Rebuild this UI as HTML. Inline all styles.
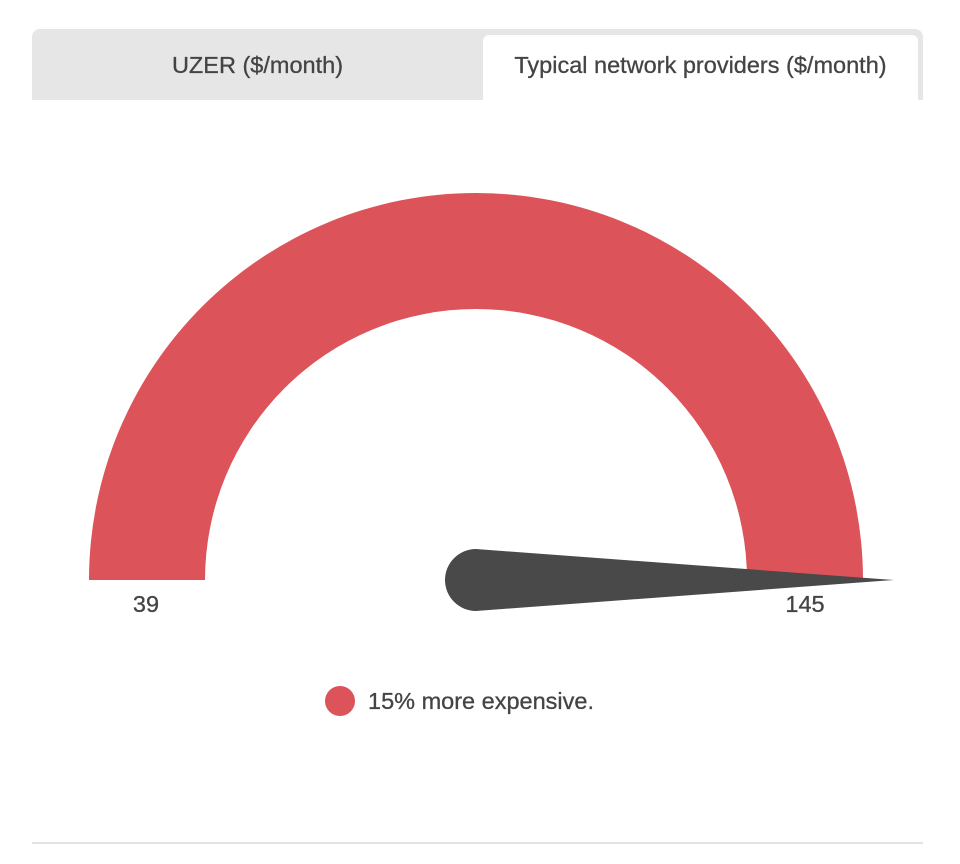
<!DOCTYPE html>
<html><head><meta charset="utf-8"><style>
body{margin:0;width:960px;height:864px;background:#fff;font-family:"Liberation Sans",sans-serif;position:relative;overflow:hidden}
.tabs{position:absolute;left:32px;top:29px;width:891px;height:71px;background:#e6e6e6;border-radius:8px 8px 0 0}
.tab{position:absolute;top:6px;height:65px;line-height:60px;text-align:center;font-size:23.5px;color:#444;-webkit-text-stroke:0.3px #444}
#t1{left:0;width:451px}
#t2{left:451px;width:435px;background:#fff;border-radius:6px 6px 0 0}
.line{position:absolute;left:32px;top:842px;width:891px;height:2px;background:#e3e3e3}
</style></head><body>
<div class="tabs">
<div class="tab" id="t1">UZER ($/month)</div>
<div class="tab" id="t2">Typical network providers ($/month)</div>
</div>
<svg id="g" width="960" height="864" style="position:absolute;left:0;top:0"></svg>
<div class="line"></div>
<script>
const minVal=[39];
const maxVal=[145];
const value=[145];
const legendText=["15% more expensive."];
const svg=document.getElementById('g');
const NS='http://www.w3.org/2000/svg';
const cx=476,cy=580,R=387,r=271;
function ang(v){return Math.PI*(1-(v-minVal[0])/(maxVal[0]-minVal[0]));}
function pt(a,rad){return [cx+rad*Math.cos(a),cy-rad*Math.sin(a)];}
const a0=ang(minVal[0]),a1=ang(value[0]);
const p1=pt(a0,R),p2=pt(a1,R),p3=pt(a1,r),p4=pt(a0,r);
const arc=document.createElementNS(NS,'path');
arc.setAttribute('d',`M${p1} A${R},${R} 0 0 1 ${p2} L${p3} A${r},${r} 0 0 0 ${p4} Z`);
arc.setAttribute('fill','#dc535a');


svg.appendChild(arc);
const na=ang(value[0]);
const tip=pt(na,418),b1=pt(na+Math.PI/2,31),b2=pt(na-Math.PI/2,31);
const nd=document.createElementNS(NS,'path');
nd.setAttribute('d',`M${b1} L${tip} L${b2} A31,31 0 0 1 ${b1} Z`);
nd.setAttribute('fill','#494949');


svg.appendChild(nd);
function txt(x,y,s,name,anchor){const t=document.createElementNS(NS,'text');t.setAttribute('x',x);t.setAttribute('y',y);t.setAttribute('font-size','23.5');t.setAttribute('fill','#444');t.setAttribute('stroke','#444');t.setAttribute('stroke-width','0.3');t.setAttribute('text-anchor',anchor||'middle');t.textContent=s;


svg.appendChild(t);}
txt(146,612,minVal[0],'min-label');
txt(805,612,maxVal[0],'max-label');
const c=document.createElementNS(NS,'circle');
c.setAttribute('cx',340);c.setAttribute('cy',701);c.setAttribute('r',15);c.setAttribute('fill','#dc535a');


svg.appendChild(c);
txt(368,709,legendText[0],'legend-text','start');
</script>
</body></html>
